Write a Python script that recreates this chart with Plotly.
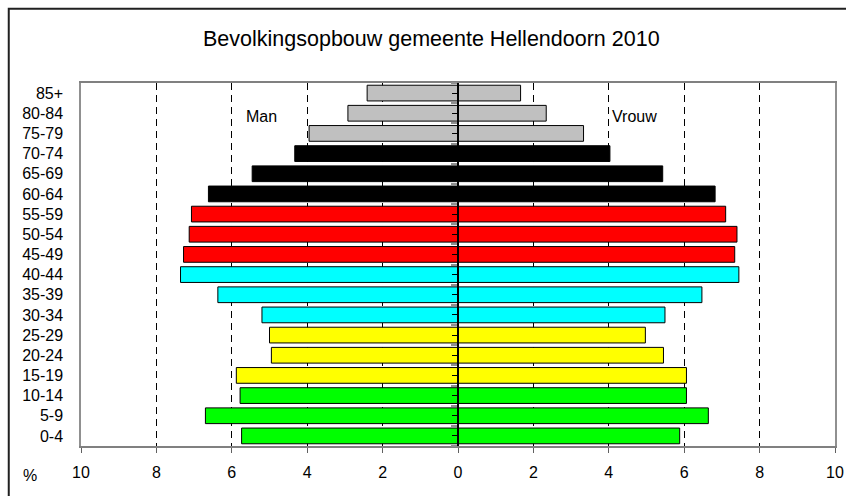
import plotly.graph_objects as go

# Data (percent of population per age group), youngest first
categories = ["0-4", "5-9", "10-14", "15-19", "20-24", "25-29", "30-34", "35-39",
              "40-44", "45-49", "50-54", "55-59", "60-64", "65-69", "70-74",
              "75-79", "80-84", "85+"]
man = [5.74, 6.70, 5.78, 5.88, 4.95, 5.00, 5.20, 6.37, 7.36, 7.28, 7.13, 7.07,
       6.62, 5.46, 4.33, 3.95, 2.92, 2.41]
vrouw = [5.88, 6.64, 6.06, 6.06, 5.45, 4.97, 5.49, 6.47, 7.45, 7.34, 7.40, 7.10,
         6.82, 5.43, 4.03, 3.33, 2.34, 1.66]
group_colors = ["#00FF00"] * 3 + ["#FFFF00"] * 3 + ["#00FFFF"] * 3 + \
               ["#FF0000"] * 3 + ["#000000"] * 3 + ["#C0C0C0"] * 3
x_ticks = [-10, -8, -6, -4, -2, 0, 2, 4, 6, 8, 10]
x_ticktext = ["10", "8", "6", "4", "2", "0", "2", "4", "6", "8", "10"]

FONT = "Liberation Sans, Arial, sans-serif"

fig = go.Figure()
fig.add_trace(go.Bar(
    y=categories, x=[-v for v in man], orientation="h",
    marker=dict(color=group_colors, line=dict(color="black", width=1)),
    name="Man", hoverinfo="skip"))
fig.add_trace(go.Bar(
    y=categories, x=vrouw, orientation="h",
    marker=dict(color=group_colors, line=dict(color="black", width=1)),
    name="Vrouw", hoverinfo="skip"))
# empty trace to carry the centre axis
fig.add_trace(go.Scatter(x=[None], y=[None], yaxis="y2", showlegend=False,
                         hoverinfo="skip"))

fig.update_layout(
    width=846, height=496,
    margin=dict(l=81, r=11, t=83, b=50, autoexpand=False),
    paper_bgcolor="white", plot_bgcolor="white",
    showlegend=False,
    barmode="overlay", bargap=0.22,
    font=dict(family=FONT, size=16, color="black"),
    xaxis=dict(
        range=[-10, 10], tickvals=x_ticks, ticktext=x_ticktext,
        automargin=False,
        showgrid=True, gridcolor="black", gridwidth=1, griddash="7px,5px",
        zeroline=False,
        showline=True, linecolor="#808080", linewidth=1.5, mirror=True,
        ticks="outside", ticklen=5, tickcolor="#606060",
        ticklabelstandoff=6,
        tickfont=dict(size=16, family=FONT),
    ),
    yaxis=dict(
        type="category", range=[-0.5, 17.5], automargin=False,
        showgrid=False, zeroline=False,
        showline=True, linecolor="#909090", linewidth=1.5, mirror=True,
        ticks="", ticklabelstandoff=13,
        tickfont=dict(size=16, family=FONT),
    ),
    yaxis2=dict(
        overlaying="y", anchor="free", position=0.5, side="left",
        automargin=False,
        range=[-0.5, 17.5], tickvals=list(range(18)),
        showticklabels=False, showgrid=False, zeroline=False,
        showline=True, linecolor="black", linewidth=2,
        ticks="outside", ticklen=5, tickcolor="black", tickwidth=1,
        minor=dict(tick0=-0.5, dtick=1, ticks="outside", ticklen=6,
                   tickcolor="#909090", tickwidth=1.5),
    ),
)

fig.add_annotation(text="Bevolkingsopbouw gemeente Hellendoorn 2010",
                   xref="paper", yref="paper", x=0.4655, y=1.121,
                   xanchor="center", yanchor="middle", showarrow=False,
                   font=dict(size=21.5, family=FONT, color="black"))
fig.add_annotation(text="Man", x=-5.2, y="80-84", xref="x", yref="y",
                   xanchor="center", yanchor="middle", yshift=-3,
                   showarrow=False, font=dict(size=16, family=FONT))
fig.add_annotation(text="Vrouw", x=4.03, y="80-84", xref="x", yref="y",
                   xanchor="left", yanchor="middle", yshift=-3,
                   showarrow=False, font=dict(size=16, family=FONT))
fig.add_annotation(text="%", xref="paper", yref="paper", x=-0.0676, y=-0.08,
                   xanchor="center", yanchor="middle", showarrow=False,
                   font=dict(size=16, family=FONT))

# outer chart frame (extends beyond the right and bottom edges)
fig.add_shape(type="rect", xref="paper", yref="paper",
              x0=(8 - 81) / 754 + 0.001, x1=1.03, y0=-0.2,
              y1=(446 - 8) / 363 - 0.002,
              line=dict(color="#202020", width=2), fillcolor="rgba(0,0,0,0)",
              layer="below")

fig.write_html("out.html",
               config={"displayModeBar": False},
               post_script="document.body.style.margin='0';"
                           "document.body.style.overflow='hidden';")
